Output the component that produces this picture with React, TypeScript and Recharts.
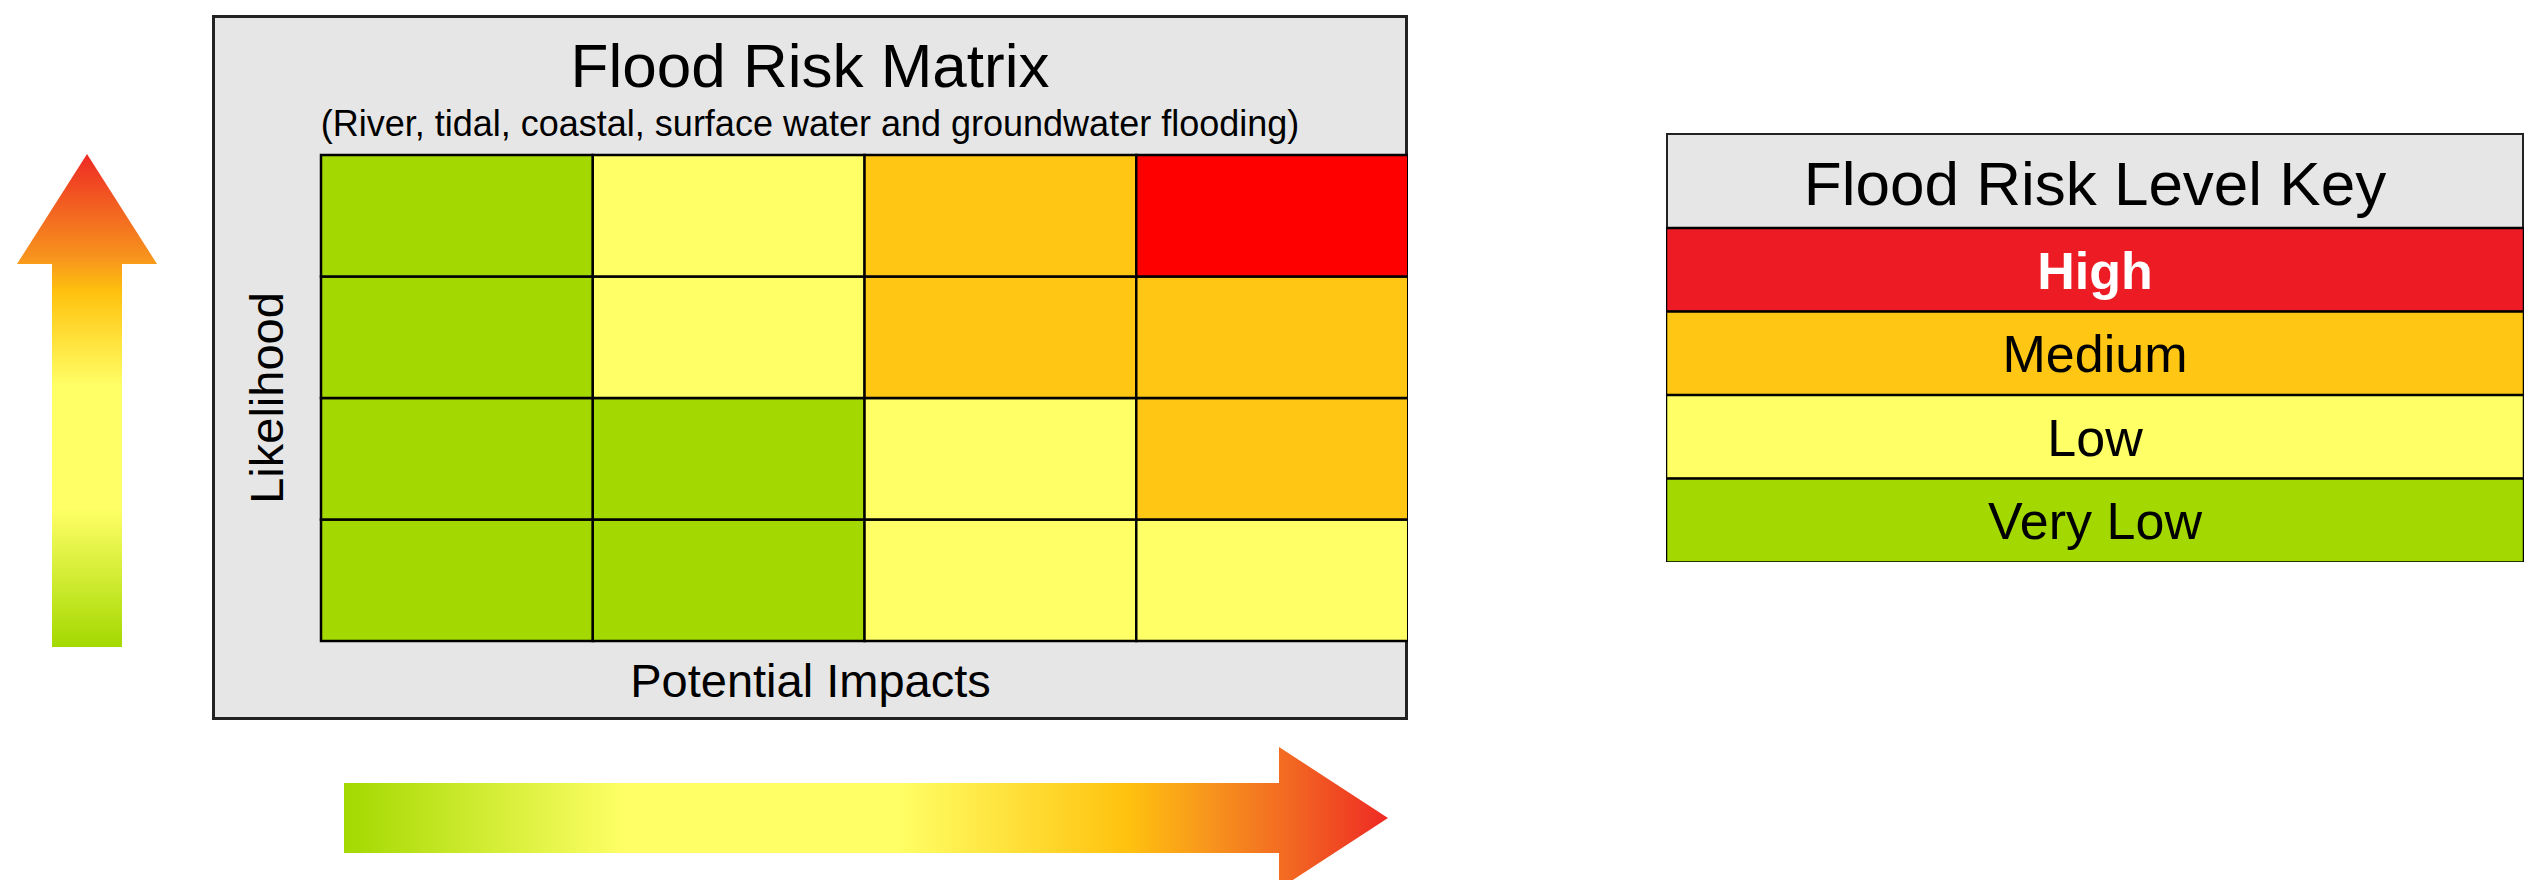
import { Bar, BarChart, Cell, Customized, LabelList, XAxis, YAxis } from 'recharts'

// impact columns, left to right (labels are not printed in the picture)
const impacts = ['Impact 1', 'Impact 2', 'Impact 3', 'Impact 4']
// likelihood rows, bottom to top
const likelihoods = ['Likelihood 1', 'Likelihood 2', 'Likelihood 3', 'Likelihood 4']

// risk level of each cell, one row per likelihood (bottom first), one entry per impact
const riskByRow = [
  ['Very Low', 'Very Low', 'Low', 'Low'],
  ['Very Low', 'Very Low', 'Low', 'Medium'],
  ['Very Low', 'Low', 'Medium', 'Medium'],
  ['Very Low', 'Low', 'Medium', 'High']
]

const keyLevels = ['High', 'Medium', 'Low', 'Very Low']

const matrixColors: Record<string, string> = {
  High: '#FF0000',
  Medium: '#FFC713',
  Low: '#FFFF66',
  'Very Low': '#A3D900'
}

const keyColors: Record<string, string> = {
  High: '#ED1C24',
  Medium: '#FFC713',
  Low: '#FFFF66',
  'Very Low': '#A3D900'
}

const FONT = '"Liberation Sans", Arial, Helvetica, sans-serif'
const GREY = '#E6E6E6'

const matrixData = impacts.map((name) => {
  const row: Record<string, string | number> = { name }
  likelihoods.forEach((_, r) => {
    row[`r${r}`] = 1
  })
  return row
})

const keyData = keyLevels.map((name) => ({ name, value: 1 }))

function MatrixTitle() {
  return (
    <g fontFamily={FONT} textAnchor="middle" fill="#000">
      <text x={598} y={72} fontSize={62}>
        Flood Risk Matrix
      </text>
      <text x={598} y={121} fontSize={36}>
        (River, tidal, coastal, surface water and groundwater flooding)
      </text>
    </g>
  )
}

function KeyTitle() {
  return (
    <text x={429} y={72} fontSize={62} fontFamily={FONT} textAnchor="middle" fill="#000">
      Flood Risk Level Key
    </text>
  )
}

function KeyLabel(props: any) {
  const { x, y, width, height, value } = props
  const high = value === 'High'
  return (
    <text
      x={x + width / 2}
      y={y + height / 2}
      dy="0.36em"
      textAnchor="middle"
      fontFamily={FONT}
      fontSize={52}
      fontWeight={high ? 700 : 400}
      fill={high ? '#FFFFFF' : '#000000'}
    >
      {value}
    </text>
  )
}

function Arrows() {
  return (
    <svg
      width={2539}
      height={880}
      style={{ position: 'absolute', left: 0, top: 0 }}
    >
      <defs>
        <linearGradient id="upGrad" x1="0" y1="1" x2="0" y2="0">
          <stop offset="0" stopColor="#A3D900" />
          <stop offset="0.28" stopColor="#FFFF66" />
          <stop offset="0.53" stopColor="#FFFF66" />
          <stop offset="0.72" stopColor="#FFC20E" />
          <stop offset="0.79" stopColor="#F7941D" />
          <stop offset="1" stopColor="#EE2A24" />
        </linearGradient>
        <linearGradient id="rightGrad" x1="0" y1="0" x2="1" y2="0">
          <stop offset="0" stopColor="#A3D900" />
          <stop offset="0.27" stopColor="#FFFF66" />
          <stop offset="0.53" stopColor="#FFFF66" />
          <stop offset="0.75" stopColor="#FFC20E" />
          <stop offset="0.83" stopColor="#F7941D" />
          <stop offset="0.91" stopColor="#F26522" />
          <stop offset="1" stopColor="#EE2A24" />
        </linearGradient>
      </defs>
      <polygon
        points="87,154 157,264 122,264 122,647 52,647 52,264 17,264"
        fill="url(#upGrad)"
      />
      <polygon
        points="344,783 1279,783 1279,747 1388,818 1279,889 1279,853 344,853"
        fill="url(#rightGrad)"
      />
    </svg>
  )
}

export default function App() {
  return (
    <div
      style={{
        position: 'absolute',
        left: 0,
        top: 0,
        width: 2539,
        height: 880,
        overflow: 'hidden',
        background: '#FFFFFF',
        fontFamily: FONT
      }}
    >
      <Arrows />

      {/* matrix frame */}
      <div
        style={{
          position: 'absolute',
          left: 212,
          top: 15,
          width: 1196,
          height: 705,
          boxSizing: 'border-box',
          border: '3px solid #222',
          background: GREY
        }}
      />
      <div style={{ position: 'absolute', left: 212, top: 15 }}>
        <BarChart
          width={1196}
          height={705}
          data={matrixData}
          margin={{ top: 140, right: 0, bottom: 0, left: 0 }}
          barCategoryGap={0}
          barGap={0}
        >
          <XAxis
            dataKey="name"
            tick={false}
            tickLine={false}
            axisLine={false}
            height={79}
            label={{
              value: 'Potential Impacts',
              position: 'center',
              dx: -54,
              fontSize: 47,
              fill: '#000',
              fontFamily: FONT
            }}
          />
          <YAxis
            type="number"
            domain={[0, likelihoods.length]}
            tick={false}
            tickLine={false}
            axisLine={false}
            width={109}
            label={{
              value: 'Likelihood',
              position: 'center',
              angle: -90,
              fontSize: 47,
              fill: '#000',
              fontFamily: FONT
            }}
          />
          {likelihoods.map((lk, r) => (
            <Bar
              key={lk}
              dataKey={`r${r}`}
              name={lk}
              stackId="matrix"
              stroke="#000"
              strokeWidth={2.5}
              isAnimationActive={false}
            >
              {impacts.map((imp, c) => (
                <Cell key={imp} fill={matrixColors[riskByRow[r][c]]} />
              ))}
            </Bar>
          ))}
          <Customized component={MatrixTitle} />
        </BarChart>
      </div>

      {/* key */}
      <div
        style={{
          position: 'absolute',
          left: 1666,
          top: 133,
          width: 858,
          height: 429,
          boxSizing: 'border-box',
          border: '2.5px solid #222',
          background: GREY
        }}
      />
      <div style={{ position: 'absolute', left: 1666, top: 133 }}>
        <BarChart
          width={858}
          height={429}
          data={keyData}
          layout="vertical"
          margin={{ top: 95, right: 0, bottom: 0, left: 0 }}
          barCategoryGap={0}
          barGap={0}
        >
          <XAxis type="number" domain={[0, 1]} hide />
          <YAxis type="category" dataKey="name" hide />
          <Bar dataKey="value" stroke="#000" strokeWidth={2.5} isAnimationActive={false}>
            {keyData.map((d) => (
              <Cell key={d.name} fill={keyColors[d.name]} />
            ))}
            <LabelList dataKey="name" content={KeyLabel} />
          </Bar>
          <Customized component={KeyTitle} />
        </BarChart>
      </div>
    </div>
  )
}
